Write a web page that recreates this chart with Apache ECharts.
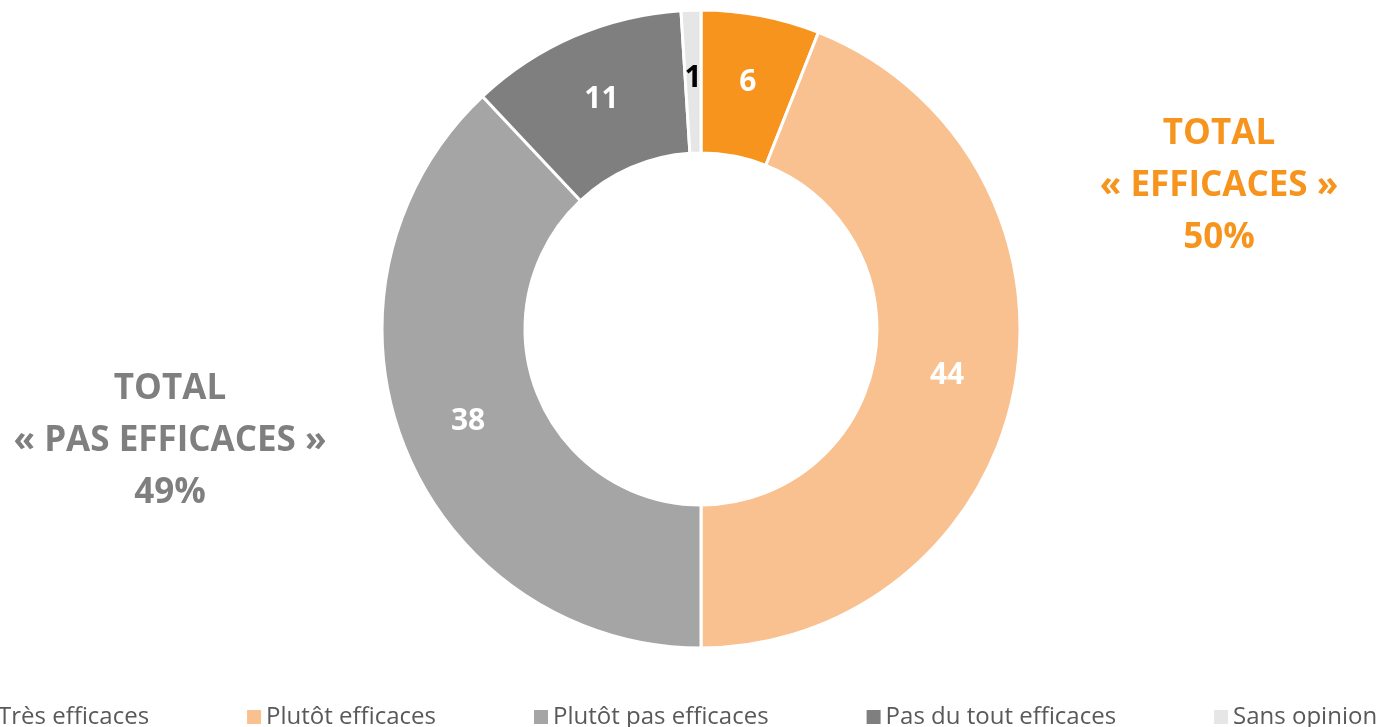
<!DOCTYPE html>
<html>
<head>
	<meta charset="utf-8">
	<title>Efficacité</title>
	<script src="https://cdn.jsdelivr.net/npm/echarts@6/dist/echarts.min.js"></script>
	<style>
		html, body { margin: 0; padding: 0; background: #fff; }
		#chart { width: 1381px; height: 727px; }
	</style>
</head>
<body>
<div id="chart"></div>
<script>
	// données du graphique
	var categories = ['Très efficaces', 'Plutôt efficaces', 'Plutôt pas efficaces', 'Pas du tout efficaces', 'Sans opinion'];
	var values = [6, 44, 38, 11, 1];
	var colors = ['#F7941D', '#F9C090', '#A5A5A5', '#7F7F7F', '#E6E6E6'];
	var labelColors = ['#fff', '#fff', '#fff', '#fff', '#000'];
	var totalEfficaces = '50%';
	var totalPasEfficaces = '49%';

	var font = 'Open Sans';

	var seriesData = [];
	for (var i = 0; i < categories.length; i++) {
		seriesData.push({
			name: categories[i],
			value: values[i],
			itemStyle: { color: colors[i] },
			label: { rich: { v: { color: labelColors[i] } } }
		});
	}

	var chart = echarts.init(document.getElementById('chart'));
	chart.setOption({
		animation: false,
		legend: {
			data: categories,
			left: -26,
			bottom: -7,
			width: 1500,
			itemWidth: 14,
			itemHeight: 14,
			itemGap: 98,
			icon: 'rect',
			itemStyle: { borderWidth: 0 },
			textStyle: { fontFamily: font, fontSize: 24, color: '#595959' }
		},
		graphic: [
			{
				type: 'text',
				x: 1219, y: 108,
				style: {
					text: 'TOTAL\n« EFFICACES »\n' + totalEfficaces,
					align: 'center',
					fill: '#F7941D',
					font: 'bold 35px "Open Sans"',
					lineHeight: 52
				}
			},
			{
				type: 'text',
				x: 170, y: 363,
				style: {
					text: 'TOTAL\n« PAS EFFICACES »\n' + totalPasEfficaces,
					align: 'center',
					fill: '#7F7F7F',
					font: 'bold 35px "Open Sans"',
					lineHeight: 52
				}
			}
		],
		series: [{
			type: 'pie',
			center: [701, 329],
			radius: [176, 319],
			startAngle: 90,
			clockwise: true,
			avoidLabelOverlap: false,
			itemStyle: { borderColor: '#fff', borderWidth: 3 },
			label: {
				show: true,
				position: 'inside',
				formatter: '{v|{c}}',
				rich: {
					v: { fontFamily: font, fontWeight: 'bold', fontSize: 30 }
				}
			},
			labelLine: { show: false },
			data: seriesData
		}]
	});
</script>
</body>
</html>
